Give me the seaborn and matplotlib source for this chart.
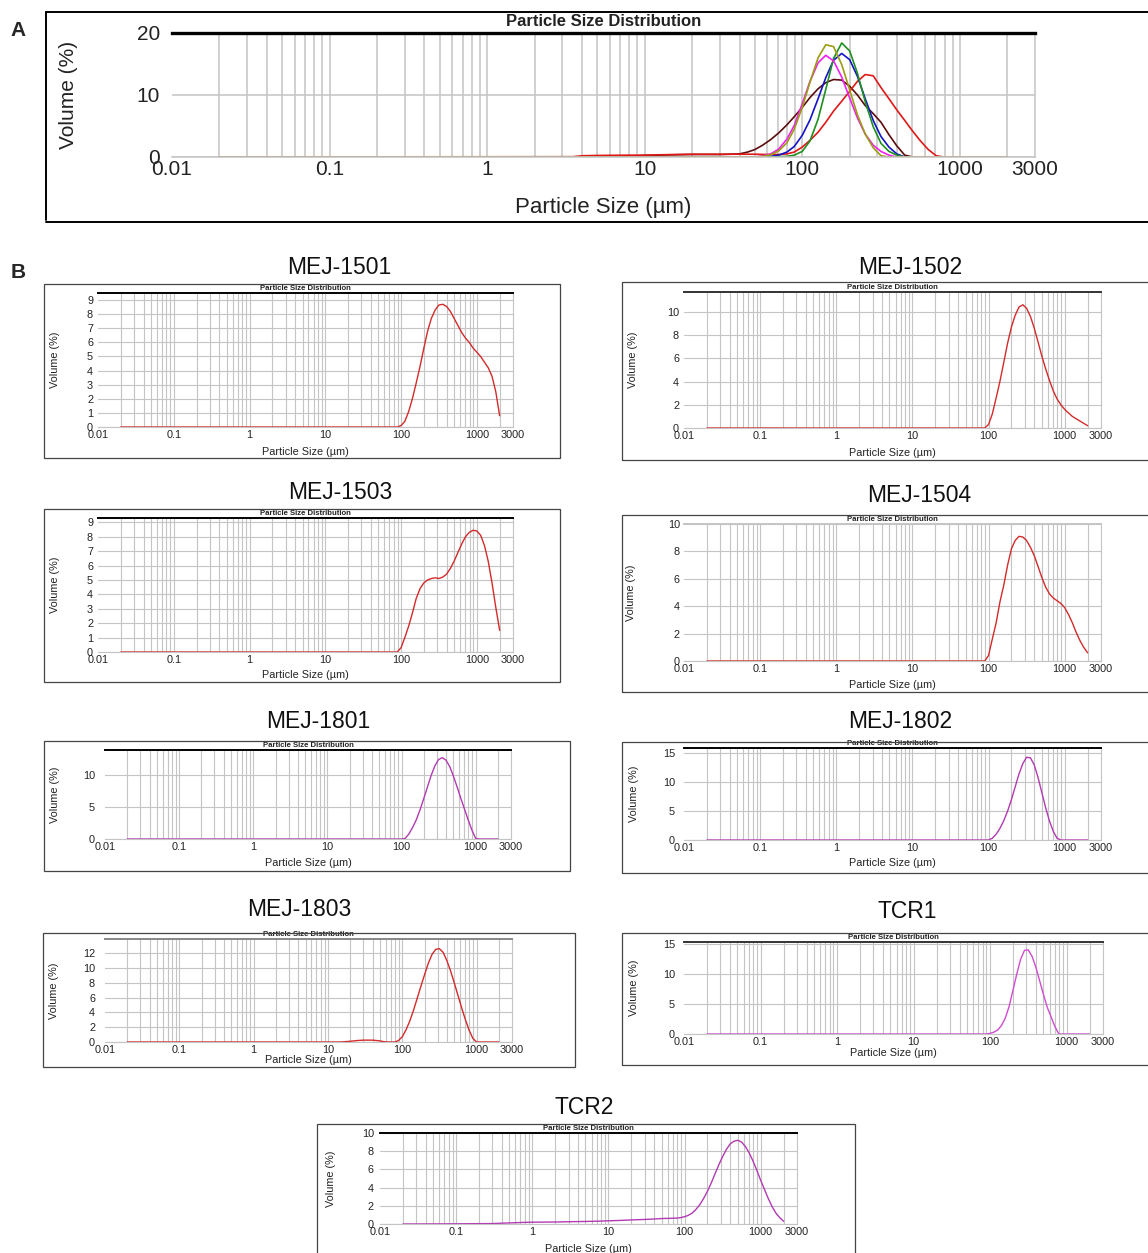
import matplotlib
matplotlib.use("Agg")
import matplotlib.pyplot as plt
import seaborn as sns
from matplotlib import font_manager
from matplotlib.patches import Rectangle
from matplotlib.lines import Line2D
from matplotlib.ticker import FixedLocator, FixedFormatter, NullFormatter

# ---------------- data ----------------
XTICKS = [0.01, 0.1, 1, 10, 100, 1000, 3000]
XTICK_LABELS = ["0.01", "0.1", "1", "10", "100", "1000", "3000"]

# Panel A (overlay of samples)
A_SIZES = [0.02, 3.5, 4, 5, 8, 10, 15, 20, 25, 30, 35, 40, 45, 50, 56, 63, 71, 80, 89, 100,
           112, 126, 141, 158, 178, 200, 224, 251, 282, 316, 355, 398, 447, 501, 562, 631,
           708, 794, 891, 1000, 2000]
A_BROWN = [0, 0, 0, 0, 0.1, 0.25, 0.35, 0.4, 0.4, 0.4, 0.45, 0.5, 0.8, 1.2, 1.9, 2.8, 3.9,
           5.2, 6.5, 8.0, 9.6, 11.0, 12.0, 12.5, 12.4, 11.4, 10.0, 8.3, 7.0, 5.6, 3.6, 1.8,
           0.3, 0, 0, 0, 0, 0, 0, 0, 0]
A_RED = [0, 0.05, 0.2, 0.25, 0.3, 0.3, 0.4, 0.45, 0.45, 0.45, 0.45, 0.45, 0.45, 0.45, 0.42,
         0.4, 0.4, 0.5, 0.8, 1.6, 2.7, 4.0, 5.6, 7.4, 9.0, 10.6, 12.2, 13.3, 13.1, 11.2, 9.4,
         7.6, 5.9, 4.2, 2.6, 1.2, 0.2, 0, 0, 0, 0]
A_BLUE = [0, 0, 0, 0, 0, 0, 0, 0, 0, 0, 0, 0, 0, 0, 0, 0.1, 0.3, 0.8, 1.7, 3.5, 6.0, 9.4,
          12.8, 15.6, 16.7, 15.7, 13.0, 9.4, 5.9, 3.3, 1.6, 0.5, 0, 0, 0, 0, 0, 0, 0, 0, 0]
A_GREEN = [0, 0, 0, 0, 0, 0, 0, 0, 0, 0, 0, 0, 0, 0, 0, 0, 0.05, 0.1, 0.3, 0.9, 2.6, 6.1,
           10.9, 15.9, 18.4, 17.1, 13.5, 8.9, 4.9, 2.2, 0.9, 0.3, 0, 0, 0, 0, 0, 0, 0, 0, 0]
A_MAGENTA = [0, 0, 0, 0, 0, 0, 0, 0, 0, 0, 0, 0, 0, 0, 0.16, 0.5, 1.3, 2.9, 5.1, 8.6, 12.2,
             15.2, 16.4, 15.5, 12.9, 9.5, 6.3, 3.7, 1.9, 0.9, 0.3, 0, 0, 0, 0, 0, 0, 0, 0, 0, 0]
A_OLIVE = [0, 0, 0, 0, 0, 0, 0, 0, 0, 0, 0, 0, 0, 0, 0.1, 0.35, 1.0, 2.3, 4.5, 8.0, 12.1,
           16.0, 18.1, 17.8, 14.9, 10.8, 6.8, 3.7, 1.5, 0.2, 0, 0, 0, 0, 0, 0, 0, 0, 0, 0, 0]
A_YTICKS = [0, 10, 20]

# Panel B (single samples)
S_SIZES = [0.02, 89, 100, 112, 126, 141, 158, 178, 200, 224, 251, 282, 316, 355, 398, 447,
           501, 562, 631, 708, 794, 891, 1000, 1122, 1259, 1413, 1585, 1778, 2000]
MEJ1501 = [0, 0, 0.1, 0.4, 1.1, 2.0, 3.1, 4.3, 5.6, 6.8, 7.7, 8.3, 8.65, 8.7, 8.55, 8.2,
           7.7, 7.2, 6.7, 6.3, 6.0, 5.6, 5.3, 5.0, 4.6, 4.2, 3.6, 2.5, 0.8]
MEJ1502 = [0, 0, 0.3, 1.2, 2.6, 4.0, 5.6, 7.3, 8.7, 9.7, 10.4, 10.6, 10.3, 9.6, 8.6, 7.4,
           6.2, 5.1, 4.1, 3.2, 2.5, 2.0, 1.6, 1.3, 1.0, 0.8, 0.6, 0.4, 0.2]
MEJ1503 = [0, 0, 0.3, 1.0, 1.8, 2.7, 3.7, 4.4, 4.8, 5.0, 5.1, 5.15, 5.1, 5.2, 5.4, 5.8,
           6.3, 6.9, 7.5, 8.0, 8.3, 8.45, 8.4, 8.1, 7.4, 6.3, 4.8, 3.1, 1.5]
MEJ1504 = [0, 0, 0.4, 1.6, 2.8, 4.3, 5.5, 7.0, 8.2, 8.8, 9.1, 9.05, 8.8, 8.3, 7.7, 6.9,
           6.1, 5.4, 4.9, 4.6, 4.4, 4.2, 3.9, 3.4, 2.8, 2.1, 1.5, 1.0, 0.6]
MEJ1801 = [0, 0, 0, 0.1, 0.8, 1.8, 3.0, 4.6, 6.4, 8.2, 10.0, 11.5, 12.5, 12.8, 12.4, 11.4,
           9.9, 8.2, 6.4, 4.7, 3.0, 1.4, 0.1, 0, 0, 0, 0, 0, 0]
MEJ1802 = [0, 0, 0, 0.3, 1.0, 2.0, 3.3, 5.0, 7.0, 9.2, 11.4, 13.2, 14.3, 14.2, 13.0, 10.8,
           8.2, 5.6, 3.3, 1.5, 0.3, 0, 0, 0, 0, 0, 0, 0, 0]
TCR1 = [0, 0, 0.1, 0.3, 0.65, 1.4, 2.6, 4.6, 7.3, 10.0, 12.4, 13.9, 14.0, 12.9, 11.1, 8.8,
        6.5, 4.4, 2.8, 1.2, 0, 0, 0, 0, 0, 0, 0, 0, 0]
M1803_SIZES = [0.02, 15, 20, 25, 30, 35, 40, 45, 50, 56, 63, 80, 89, 100, 112, 126, 141, 158,
               178, 200, 224, 251, 282, 316, 355, 398, 447, 501, 562, 631, 708, 794, 891,
               1000, 2000]
MEJ1803 = [0, 0, 0.1, 0.2, 0.25, 0.25, 0.25, 0.2, 0.15, 0.05, 0, 0, 0.2, 0.7, 1.6, 2.8, 4.2,
           5.8, 7.5, 9.1, 10.6, 11.8, 12.5, 12.6, 12.1, 11.0, 9.6, 8.0, 6.3, 4.6, 3.0, 1.6,
           0.5, 0, 0]
T2_SIZES = [0.02, 0.1, 0.3, 0.5, 0.8, 1, 2, 3, 5, 8, 10, 15, 20, 30, 40, 50, 63, 80, 89, 100,
            112, 126, 141, 158, 178, 200, 224, 251, 282, 316, 355, 398, 447, 501, 562, 631,
            708, 794, 891, 1000, 1122, 1259, 1413, 1585, 1778, 2000]
TCR2 = [0, 0.02, 0.05, 0.12, 0.18, 0.2, 0.22, 0.25, 0.28, 0.32, 0.35, 0.4, 0.45, 0.5, 0.55,
        0.6, 0.62, 0.65, 0.7, 0.8, 0.95, 1.2, 1.6, 2.1, 2.8, 3.6, 4.5, 5.5, 6.5, 7.4, 8.2,
        8.8, 9.1, 9.2, 9.0, 8.5, 7.8, 6.9, 5.9, 4.8, 3.8, 2.8, 1.9, 1.2, 0.7, 0.3]

Y_0_9 = [0, 1, 2, 3, 4, 5, 6, 7, 8, 9]
Y_0_10_2 = [0, 2, 4, 6, 8, 10]
Y_0_12_2 = [0, 2, 4, 6, 8, 10, 12]
Y_0_10_5 = [0, 5, 10]
Y_0_15_5 = [0, 5, 10, 15]

# ---------------- style ----------------
sns.set_theme(style="white")
plt.rcParams['font.family'] = ['Liberation Sans', 'DejaVu Sans']
avail = {f.name for f in font_manager.fontManager.ttflist}
NARROW = 'Liberation Sans Narrow' if 'Liberation Sans Narrow' in avail else 'Liberation Sans'
HAS_NARROW = NARROW != 'Liberation Sans'

GRID_C = '#c4c4c4'
GRID_X = [m * 10.0 ** e for e in range(-2, 4) for m in range(2, 10) if m * 10.0 ** e <= 2000] \
    + [0.1, 1, 10, 100, 1000]

RED = '#d42a2a'
PURPLE = '#b23ab2'
PINK = '#d04cd0'

W, H = 1148, 1253
fig = plt.figure(figsize=(W / 100, H / 100), dpi=100, facecolor='white')


def add_ax(l, r, t, b):
    return fig.add_axes([l / W, 1 - b / H, (r - l) / W, (b - t) / H])


def frame(l, t, r, b, lw, color):
    fig.add_artist(Rectangle((l / W, 1 - b / H), (r - l) / W, (b - t) / H,
                             transform=fig.transFigure, fill=False, lw=lw,
                             edgecolor=color, clip_on=False))


def style(ax, ytop, yticks, tick_fs, ypad, xpad, top_color, top_lw, grid_lw):
    ax.set_xlim(0.01, 3000)
    ax.set_ylim(0, ytop)
    ax.xaxis.set_major_locator(FixedLocator(XTICKS))
    ax.xaxis.set_major_formatter(FixedFormatter(XTICK_LABELS))
    ax.xaxis.set_minor_locator(FixedLocator(GRID_X))
    ax.xaxis.set_minor_formatter(NullFormatter())
    ax.xaxis.remove_overlapping_locs = False
    ax.yaxis.set_major_locator(FixedLocator(yticks))
    ax.yaxis.set_major_formatter(FixedFormatter([str(v) for v in yticks]))
    ax.grid(False)
    ax.grid(True, which='minor', axis='x', color=GRID_C, lw=grid_lw)
    ax.grid(True, which='major', axis='y', color=GRID_C, lw=grid_lw)
    ax.set_axisbelow(True)
    ax.tick_params(axis='both', which='both', length=0, labelsize=tick_fs, colors='#222222')
    ax.tick_params(axis='y', pad=ypad * 0.72)
    ax.tick_params(axis='x', pad=xpad * 0.72)
    ax.spines['left'].set_visible(False)
    for s in ('bottom', 'right'):
        ax.spines[s].set_color(GRID_C)
        ax.spines[s].set_linewidth(grid_lw)
    ax.spines['top'].set_color(top_color)
    ax.spines['top'].set_linewidth(top_lw)


def labels(ax, l, r, t, b, ylab_x, xlab_y, fs_xlab, fs_ylab, title_fs, title_off, title_family):
    ax.set_xlabel('Particle Size (µm)', fontsize=fs_xlab, color='#222222')
    ax.set_ylabel('Volume (%)', fontsize=fs_ylab, color='#222222')
    ax.xaxis.label.set_va('center')
    ax.yaxis.label.set_va('center')
    ax.xaxis.set_label_coords(0.5, -(xlab_y - b) / (b - t))
    ax.yaxis.set_label_coords((ylab_x - l) / (r - l), 0.5)
    ax.text(0.5, 1 + title_off / (b - t), 'Particle Size Distribution', transform=ax.transAxes,
            ha='center', va='center', fontsize=title_fs, fontweight='bold',
            family=title_family, color='#222222')


def line(ax, sizes, vals, color, lw):
    sns.lineplot(x=sizes, y=vals, ax=ax, color=color, linewidth=lw,
                 estimator=None, sort=False, legend=False)


# ---------------- Panel A ----------------
axA = add_ax(172, 1035, 33, 157)
axA.set_xscale('log')
for vals, col in [(A_BROWN, '#5c0c0c'), (A_RED, '#e01818'), (A_BLUE, '#1414c8'),
                  (A_GREEN, '#1f8f1f'), (A_MAGENTA, '#f020f0'), (A_OLIVE, '#9c9c10')]:
    line(axA, A_SIZES, vals, col, 1.2)
style(axA, 20, A_YTICKS, 15, 12, 3, 'black', 2.4, 1.1)
labels(axA, 172, 1035, 33, 157, 68, 207, 16, 15, 13 if HAS_NARROW else 12, 11, NARROW)
fig.add_artist(Line2D([46 / W, 46 / W], [1 - 12 / H, 1 - 220 / H], transform=fig.transFigure,
                      color='black', lw=1.4))
fig.add_artist(Line2D([46 / W, 1.0], [1 - 12 / H, 1 - 12 / H], transform=fig.transFigure,
                      color='black', lw=1.4))
fig.add_artist(Line2D([46 / W, 1.0], [1 - 222 / H, 1 - 222 / H], transform=fig.transFigure,
                      color='black', lw=1.4))
fig.text(18 / W, 1 - 30 / H, 'A', fontsize=15, fontweight='bold', ha='center', va='center')
fig.text(18 / W, 1 - 272 / H, 'B', fontsize=15, fontweight='bold', ha='center', va='center')

# ---------------- Panel B ----------------
PANELS = [
    dict(name='MEJ-1501', sizes=S_SIZES, vals=MEJ1501, color=RED, ax=(98, 513, 293, 427),
         ytop=9.5, yt=Y_0_9, box=(44, 284, 560, 458), title=(339, 268), ylx=55, xly=452,
         ypad=5, top='black'),
    dict(name='MEJ-1502', sizes=S_SIZES, vals=MEJ1502, color=RED, ax=(684, 1101, 292, 428),
         ytop=11.7, yt=Y_0_10_2, box=(622, 282, 1152, 460), title=(910, 268), ylx=633, xly=453,
         ypad=5, top='#333333'),
    dict(name='MEJ-1503', sizes=S_SIZES, vals=MEJ1503, color=RED, ax=(98, 513, 518, 652),
         ytop=9.3, yt=Y_0_9, box=(44, 509, 560, 682), title=(340, 493), ylx=55, xly=675,
         ypad=5, top='black'),
    dict(name='MEJ-1504', sizes=S_SIZES, vals=MEJ1504, color=RED, ax=(684, 1101, 524, 661),
         ytop=10, yt=Y_0_10_2, box=(622, 515, 1152, 692), title=(919, 495), ylx=631, xly=685,
         ypad=4, top=GRID_C),
    dict(name='MEJ-1801', sizes=S_SIZES, vals=MEJ1801, color=PURPLE, ax=(105, 511, 750, 839),
         ytop=14, yt=Y_0_10_5, box=(44, 741, 570, 871), title=(318, 722), ylx=55, xly=863,
         ypad=10, top='black'),
    dict(name='MEJ-1802', sizes=S_SIZES, vals=MEJ1802, color=PURPLE, ax=(684, 1101, 748, 840),
         ytop=15.9, yt=Y_0_15_5, box=(622, 742, 1152, 873), title=(900, 722), ylx=634, xly=863,
         ypad=9, top='black'),
    dict(name='MEJ-1803', sizes=M1803_SIZES, vals=MEJ1803, color=RED, ax=(105, 512, 939, 1042),
         ytop=13.9, yt=Y_0_12_2, box=(43, 933, 575, 1067), title=(299, 910), ylx=54, xly=1060,
         ypad=10, top='#888888'),
    dict(name='TCR1', sizes=S_SIZES, vals=TCR1, color=PINK, ax=(684, 1103, 942, 1034),
         ytop=15.3, yt=Y_0_15_5, box=(622, 933, 1152, 1065), title=(907, 912), ylx=634,
         xly=1053, ypad=9, top='#333333'),
    dict(name='TCR2', sizes=T2_SIZES, vals=TCR2, color=PURPLE, ax=(380, 797, 1133, 1224),
         ytop=10, yt=Y_0_10_2, box=(317, 1124, 855, 1258), title=(584, 1107), ylx=331,
         xly=1249, ypad=6, top='black'),
]

for p in PANELS:
    l, r, t, b = p['ax']
    ax = add_ax(l, r, t, b)
    ax.set_xscale('log')
    line(ax, p['sizes'], p['vals'], p['color'], 1.0)
    style(ax, p['ytop'], p['yt'], 7.8, p['ypad'], 3, p['top'], 1.4, 0.8)
    labels(ax, l, r, t, b, p['ylx'], p['xly'], 7.8, 7.8, 6.2 if HAS_NARROW else 5.6,
           4.5, NARROW)
    bl, bt, br, bb = p['box']
    frame(bl, bt, br, bb, 0.9, '#444444')
    fig.text(p['title'][0] / W, 1 - p['title'][1] / H, p['name'], fontsize=16.5,
             ha='center', va='center', color='#111111')

fig.savefig('out.png', dpi=100, facecolor='white')
